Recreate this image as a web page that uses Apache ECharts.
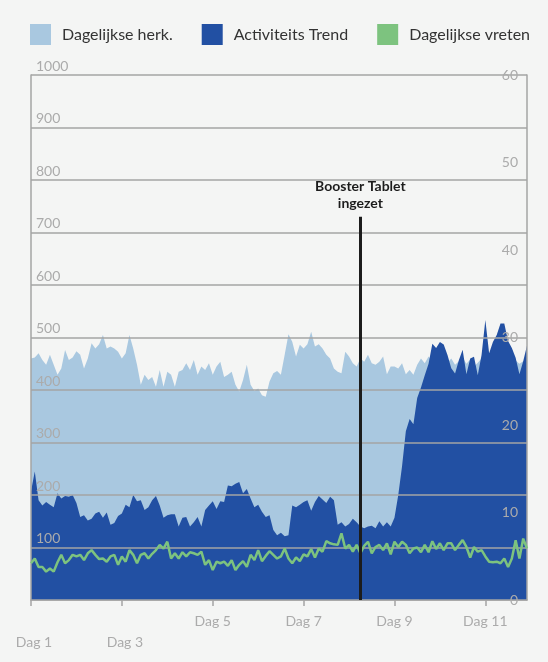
<!DOCTYPE html>
<html>
<head>
<meta charset="utf-8">
<script src="https://cdn.jsdelivr.net/npm/echarts@6/dist/echarts.min.js"></script>
<style>
    html, body { margin: 0; padding: 0; background: #f4f5f4; }
    #main { width: 548px; height: 662px; }
</style>
</head>
<body>
<div id="main"></div>
<script>
    // 11 dagen, 12 metingen per dag (om de 2 uur)
    const days = [1, 2, 3, 4, 5, 6, 7, 8, 9, 10, 11];
    const slots = ['00', '02', '04', '06', '08', '10', '12', '14', '16', '18', '20', '22'];
    const categories = [];
    days.forEach((d) => slots.forEach((s) => categories.push('Dag ' + d + ' ' + s + ':00')));

    /*Dagelijkse herk. (linker as)*/
    const herk = [
        460, 462, 470, 457, 448, 467, 448, 429, 441, 476, 457, 462,
        474, 467, 441, 460, 489, 479, 487, 505, 479, 483, 479, 473,
        460, 470, 505, 479, 448, 410, 429, 419, 425, 406, 438, 406,
        435, 429, 406, 435, 438, 451, 438, 457, 429, 445, 438, 451,
        429, 445, 454, 425, 429, 435, 410, 397, 419, 448, 410, 398,
        403, 390, 387, 416, 432, 436, 429, 467, 506, 492, 464, 486,
        479, 487, 511, 483, 487, 479, 467, 460, 441, 435, 432, 473,
        464, 451, 445, 460, 454, 467, 451, 448, 454, 464, 430, 445,
        445, 441, 451, 430, 438, 429, 448, 460, 451, 464, 455, 450,
        458, 446, 452, 460, 448, 455, 462, 450, 458, 445, 452, 460,
        447, 455, 450, 458, 446, 453, 460, 449, 456, 450, 455, 452
    ];

    /*Activiteits Trend (rechter as)*/
    const trend = [
        12.4, 14.7, 11.4, 10.8, 11.2, 10.9, 10.6, 12.2, 11.6, 11.9, 11.8, 12.0,
        11.1, 9.5, 9.7, 9.1, 9.3, 9.9, 10.1, 9.4, 10.0, 8.6, 8.8, 9.6,
        9.9, 10.9, 10.6, 12.0, 11.3, 11.4, 10.3, 10.6, 11.4, 11.9, 10.8, 9.4,
        9.7, 9.8, 9.8, 8.4, 9.4, 9.5, 8.4, 8.9, 9.5, 8.4, 10.3, 10.8,
        11.3, 10.4, 11.3, 11.2, 13.1, 13.0, 13.3, 13.5, 12.2, 12.7, 11.6, 10.6,
        10.9, 10.1, 9.5, 9.7, 8.0, 7.4, 7.7, 7.3, 7.4, 10.8, 10.6, 10.9,
        11.2, 11.4, 10.2, 11.2, 11.9, 11.5, 11.1, 11.8, 11.4, 8.6, 8.9, 8.4,
        8.7, 9.3, 8.9, 8.4, 8.2, 8.4, 8.5, 8.2, 9.0, 8.4, 8.9, 8.4,
        9.4, 12.0, 15.3, 19.3, 20.7, 20.1, 23.1, 24.3, 25.7, 27.0, 29.3, 28.8,
        29.5, 29.2, 28.0, 26.5, 25.9, 27.4, 28.6, 25.8, 27.6, 27.8, 25.7, 28.0,
        32.0, 28.2, 29.5, 30.3, 31.6, 31.6, 29.6, 28.8, 27.7, 25.8, 27.3, 29.1
    ];

    /*Dagelijkse vreten (linker as)*/
    const vreten = [
        70, 79, 63, 63, 54, 60, 54, 72, 86, 70, 76, 86,
        83, 86, 76, 89, 95, 86, 78, 79, 73, 83, 86, 67,
        83, 73, 95, 86, 70, 86, 89, 79, 88, 95, 105, 98,
        111, 79, 89, 79, 91, 83, 91, 89, 86, 92, 67, 76,
        57, 73, 70, 73, 65, 76, 57, 67, 74, 63, 86, 76,
        95, 74, 84, 93, 86, 79, 83, 98, 79, 70, 81, 74,
        87, 83, 97, 81, 98, 92, 112, 108, 106, 105, 127, 98,
        105, 92, 105, 89, 103, 111, 89, 101, 105, 95, 108, 87,
        111, 101, 111, 105, 89, 98, 100, 91, 105, 91, 112, 97,
        108, 95, 108, 108, 95, 105, 114, 101, 81, 101, 92, 95,
        83, 73, 72, 73, 70, 79, 63, 79, 114, 79, 117, 98
    ];

    const boosterIndex = 87;
    const boosterTop = 730;

    const gridColor = '#a4a4a4';
    const labelColor = '#ababab';

    const chart = echarts.init(document.getElementById('main'));
    chart.setOption({
        animation: false,
        backgroundColor: '#f4f5f4',
        textStyle: { fontFamily: 'Lato' },
        color: ['#a9c8e0', '#2250a3', '#7dc37f'],
        legend: {
            left: 30,
            top: 24,
            padding: 0,
            itemWidth: 21,
            itemHeight: 21,
            itemGap: 29,
            textStyle: { fontSize: 16, color: '#333333', padding: [0, 0, 0, 6] },
            data: [
                { name: 'Dagelijkse herk.', icon: 'rect' },
                { name: 'Activiteits Trend', icon: 'rect' },
                { name: 'Dagelijkse vreten', icon: 'rect' }
            ]
        },
        grid: { left: 31, right: 21, top: 75, bottom: 62, outerBoundsMode: 'none', containLabel: false },
        xAxis: {
            type: 'category',
            data: categories,
            boundaryGap: false,
            axisLine: { lineStyle: { color: gridColor, width: 1.5 } },
            axisTick: {
                length: 6,
                lineStyle: { color: gridColor, width: 1.5 },
                interval: (index) => index % 24 === 0
            },
            axisLabel: {
                interval: (index) => index % 24 === 0,
                color: labelColor,
                fontSize: 14,
                margin: 14,
                formatter: (value, index) => {
                    const day = value.split(' ').slice(0, 2).join(' ');
                    // Dag 1 en Dag 3 staan een regel lager
                    return index < 48 ? '{low|' + day + '}' : day;
                },
                rich: {
                    low: { color: labelColor, fontSize: 14, padding: [21, 0, 0, 6] }
                }
            },
            splitLine: { show: false }
        },
        yAxis: [{
            type: 'value',
            min: 0,
            max: 1000,
            interval: 100,
            z: 3,
            axisLine: { show: true, lineStyle: { color: gridColor, width: 1.5 } },
            axisTick: { show: false },
            splitLine: { lineStyle: { color: gridColor, width: 1.5 } },
            axisLabel: {
                inside: true,
                margin: 5,
                color: labelColor,
                fontSize: 14,
                verticalAlign: 'bottom',
                padding: [0, 0, 2, 0],
                formatter: (v) => v === 0 ? '' : v
            }
        }, {
            type: 'value',
            min: 0,
            max: 60,
            interval: 10,
            z: 3,
            position: 'right',
            axisLine: { show: true, lineStyle: { color: gridColor, width: 1.5 } },
            axisTick: { show: false },
            splitLine: { show: false },
            axisLabel: {
                inside: true,
                margin: 9,
                color: labelColor,
                fontSize: 14,
                verticalAlign: 'middle'
            }
        }],
        series: [{
            name: 'Dagelijkse herk.',
            type: 'line',
            data: herk,
            symbol: 'none',
            z: 1,
            lineStyle: { width: 0 },
            areaStyle: { color: '#a9c8e0', opacity: 1 },
            itemStyle: { color: '#a9c8e0' },
            markLine: {
                silent: true,
                symbol: ['none', 'none'],
                lineStyle: { color: '#1c1c1c', width: 3, type: 'solid' },
                label: {
                    position: 'end',
                    formatter: 'Booster Tablet\ningezet',
                    color: '#1c1c1c',
                    fontFamily: 'Lato',
                    fontWeight: 'bold',
                    fontSize: 14,
                    lineHeight: 17,
                    distance: 5
                },
                data: [[
                    { coord: [boosterIndex, 0] },
                    { coord: [boosterIndex, boosterTop] }
                ]]
            }
        }, {
            name: 'Activiteits Trend',
            type: 'line',
            yAxisIndex: 1,
            data: trend,
            symbol: 'none',
            z: 2,
            lineStyle: { width: 0 },
            areaStyle: { color: '#2250a3', opacity: 1 },
            itemStyle: { color: '#2250a3' }
        }, {
            name: 'Dagelijkse vreten',
            type: 'line',
            data: vreten,
            symbol: 'none',
            z: 4,
            lineStyle: { color: '#7dc37f', width: 2.5 },
            itemStyle: { color: '#7dc37f' }
        }]
    });
</script>
</body>
</html>
